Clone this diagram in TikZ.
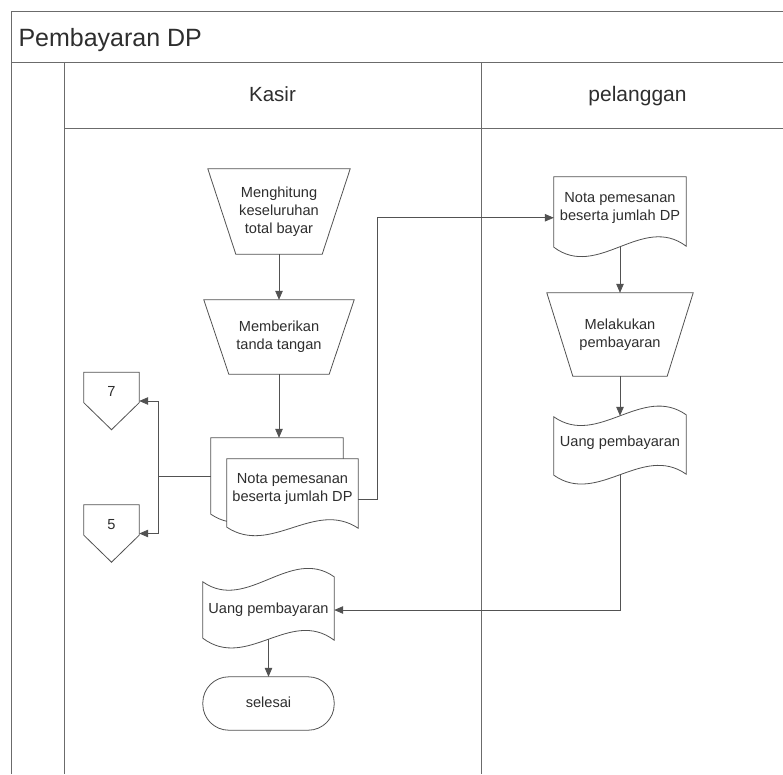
\documentclass[tikz,border=0pt]{standalone}
\usepackage{fontspec}
\setmainfont{Liberation Sans}
\usetikzlibrary{arrows.meta,calc}
\pgfdeclarelayer{bg}
\pgfsetlayers{bg,main}
\newcommand{\mylbl}[2]{\raisebox{#1}[\height][\depth]{\begin{tabular}{@{}c@{}}#2\end{tabular}}}
\begin{document}
\begin{tikzpicture}[x=1pt,y=-1pt,
  line/.style={draw=black!68, line width=0.8pt},
  arr/.style={line, -{Triangle[length=9pt,width=7.5pt]}},
  shapeout/.style={line, fill=white},
  box/.style={draw=none, inner sep=0pt, font=\fontsize{14.6}{18}\selectfont, text=black!82},
  frame/.style={draw=black!58, line width=0.9pt},
  head/.style={anchor=base, text=black!82}]
\useasboundingbox (0,0) rectangle (783,774);

% frame
\draw[frame] (11,774) -- (11,11) -- (783,11);
\draw[frame] (11,62.5) -- (783,62.5);
\draw[frame] (64,62.5) -- (64,774);
\draw[frame] (64,128) -- (783,128);
\draw[frame] (481,62.5) -- (481,774);

\node[anchor=base west, text=black!82, font=\fontsize{25}{30}\selectfont] (title) at (15,46) {Pembayaran DP};
\node[head, font=\fontsize{20.5}{24}\selectfont] (kasir) at (272.5,101) {Kasir};
\node[head, font=\fontsize{21}{24}\selectfont] (pel) at (637.5,101) {pelanggan};

% nodes
\node[box, minimum width=142pt, minimum height=85pt] (A) at (279,211.5) {\mylbl{0pt}{Menghitung\\keseluruhan\\total bayar}};
\node[box, minimum width=150pt, minimum height=74pt] (B) at (279,337) {\mylbl{0pt}{Memberikan\\tanda tangan}};
\node[box, minimum width=132pt, minimum height=76pt] (Cb) at (277,476) {};
\node[box, minimum width=131pt, minimum height=80pt] (C) at (292.5,499) {\mylbl{10pt}{Nota pemesanan\\beserta jumlah DP}};
\node[box, minimum width=55pt, minimum height=57pt] (K7) at (111.5,401) {\mylbl{8pt}{7}};
\node[box, minimum width=55pt, minimum height=57pt] (K5) at (111.5,533.5) {\mylbl{7.5pt}{5}};
\node[box, minimum width=132pt, minimum height=69.5pt] (F) at (620,211.75) {\mylbl{4pt}{Nota pemesanan\\beserta jumlah DP}};
\node[box, minimum width=146pt, minimum height=83pt] (G) at (620,334.5) {\mylbl{0pt}{Melakukan\\pembayaran}};
\node[box, minimum width=132pt, minimum height=58.5pt] (H) at (620,445.25) {\mylbl{2pt}{Uang pembayaran}};
\node[box, minimum width=131pt, minimum height=58pt] (I) at (268.5,610) {\mylbl{0pt}{Uang pembayaran}};
\node[box, minimum width=131pt, minimum height=53pt] (J) at (268.5,703.5) {\mylbl{0pt}{selesai}};
\coordinate (sp) at ($(Cb.west)+(-52,0)$);

% outlines
\begin{pgfonlayer}{bg}
\draw[shapeout] (A.north west) -- (A.north east) -- ($(A.south east)+(-28,0)$) -- ($(A.south west)+(28,0)$) -- cycle;
\draw[shapeout] (B.north west) -- (B.north east) -- ($(B.south east)+(-25,0)$) -- ($(B.south west)+(25,0)$) -- cycle;
\draw[shapeout] (Cb.north east) -- (Cb.north west) -- (Cb.south west) .. controls +(44,30) and +(-44,-30) .. ($(Cb.south east)+(0,-4)$) -- cycle;
\draw[shapeout] (C.north east) -- (C.north west) -- ($(C.south west)+(0,-12)$) .. controls +(44,29) and +(-44,-29) .. ($(C.south east)+(0,-11)$) -- cycle;
\draw[shapeout] (K7.north west) -- (K7.north east) -- ($(K7.south east)+(0,-27)$) -- (K7.south) -- ($(K7.south west)+(0,-27)$) -- cycle;
\draw[shapeout] (K5.north west) -- (K5.north east) -- ($(K5.south east)+(0,-27)$) -- (K5.south) -- ($(K5.south west)+(0,-27)$) -- cycle;
\draw[shapeout] (F.north east) -- (F.north west) -- ($(F.south west)+(0,0.5)$) .. controls +(44,33) and +(-44,-33) .. ($(F.south east)+(0,-0.5)$) -- cycle;
\draw[shapeout] (G.north west) -- (G.north east) -- ($(G.south east)+(-26,0)$) -- ($(G.south west)+(26,0)$) -- cycle;
\draw[shapeout] ($(H.north west)+(0,1)$) .. controls +(44,31) and +(-44,-31) .. ($(H.north east)+(0,-1)$)
  -- ($(H.south east)+(0,-0.5)$) .. controls +(-44,-31) and +(44,31) .. ($(H.south west)+(0,0.5)$) -- cycle;
\draw[shapeout] ($(I.north west)+(0,1)$) .. controls +(44,31) and +(-44,-31) .. ($(I.north east)+(0,-4)$)
  -- ($(I.south east)+(0,1)$) .. controls +(-44,-33) and +(44,33) .. ($(I.south west)+(0,-1)$) -- cycle;
\draw[shapeout, rounded corners=26pt] (J.north west) rectangle (J.south east);
\end{pgfonlayer}

% connectors
\draw[arr] (A.south) -- (B.north);
\draw[arr] (B.south) -- (B.south |- Cb.north);
\draw[line] (Cb.west) -- (sp);
\draw[arr] (sp) |- (K7.east);
\draw[arr] (sp) |- (K5.east);
\draw[arr] (C.east) -- ++(19,0) |- ([yshift=-6pt]F.west);
\draw[arr] (F.south) -- (G.north);
\draw[arr] (G.south) -- (H.north);
\draw[arr] (H.south) |- (I.east);
\draw[arr] (I.south) -- (J.north);
\end{tikzpicture}
\end{document}
